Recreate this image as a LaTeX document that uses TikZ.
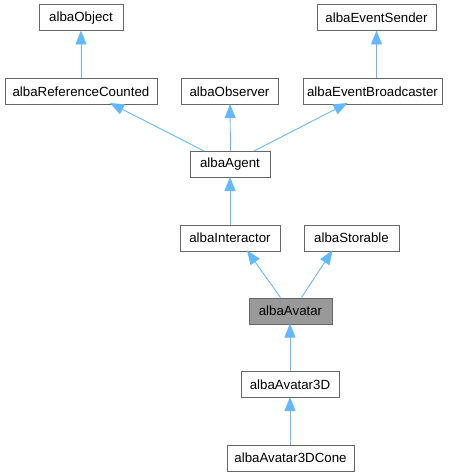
\documentclass[tikz,border=0pt]{standalone}
\usepackage{fontspec}
\setmainfont{Liberation Sans}
\usepackage{tikz}
\usetikzlibrary{arrows.meta}
\definecolor{edgeblue}{HTML}{63B8FF}
\definecolor{boxline}{HTML}{666666}
\definecolor{boxfill}{HTML}{999999}

\begin{document}
\begin{tikzpicture}[x=1pt,y=-1pt,
                cls/.style={draw=boxline,fill=white,line width=1pt,
                    minimum width=#1,minimum height=26pt,
                    inner sep=0pt,rectangle,
                    font=\fontsize{13.3}{16}\selectfont},
                cur/.style={cls=#1,fill=boxfill},
                edge/.style={draw=edgeblue,line width=0.9pt,
                    -{Triangle[length=14pt,width=11pt]}}]
                \useasboundingbox (0,0) rectangle (457,476);
                % class nodes
                \node[cls=84pt](nObject) at (81,18) {albaObject};
                \node[cls=119pt](nSender) at (376.5,18) {albaEventSender};
                \node[cls=152pt](nRefCounted) at (81,91.5) {albaReferenceCounted};
                \node[cls=97pt](nObserver) at (229.5,91.5) {albaObserver};
                \node[cls=139pt](nBroadcaster) at (372.5,91.5) {albaEventBroadcaster};
                \node[cls=80pt](nAgent) at (230,164.5) {albaAgent};
                \node[cls=100pt](nInteractor) at (230,238) {albaInteractor};
                \node[cls=95pt](nStorable) at (351.5,238) {albaStorable};
                \node[cur=83pt](nAvatar) at (290.5,311) {albaAvatar};
                \node[cls=98pt](nAvatar3D) at (290,384.5) {albaAvatar3D};
                \node[cls=127pt](nCone) at (290.5,458) {albaAvatar3DCone};
                % inheritance
                \draw[edge] (nRefCounted.north) -- ([yshift=1pt]nObject.south);
                \draw[edge] ([xshift=4pt]nBroadcaster.north) -- ([yshift=1pt]nSender.south);
                \draw[edge] ([xshift=-26pt]nAgent.north) -- ([xshift=29pt,yshift=2pt]nRefCounted.south);
                \draw[edge] ([xshift=0.5pt]nAgent.north) -- ([xshift=0.5pt,yshift=1pt]nObserver.south);
                \draw[edge] ([xshift=24pt]nAgent.north) -- ([xshift=-25pt,yshift=2pt]nBroadcaster.south);
                \draw[edge] (nInteractor.north) -- ([yshift=1pt]nAgent.south);
                \draw[edge] ([xshift=-10pt]nAvatar.north) -- ([xshift=17pt,yshift=1pt]nInteractor.south);
                \draw[edge] ([xshift=11pt]nAvatar.north) -- ([xshift=-19pt,yshift=1pt]nStorable.south);
                \draw[edge] (nAvatar3D.north) -- ([xshift=-0.5pt,yshift=1pt]nAvatar.south);
                \draw[edge] ([xshift=-0.5pt]nCone.north) -- ([yshift=1pt]nAvatar3D.south);
            \end{tikzpicture}
\end{document}
